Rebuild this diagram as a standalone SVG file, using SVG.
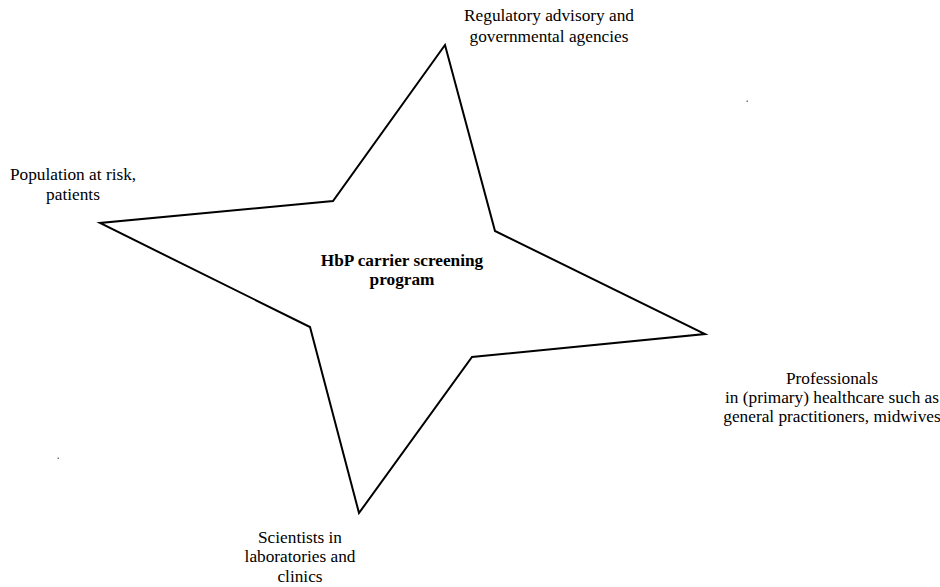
<svg xmlns="http://www.w3.org/2000/svg" width="940" height="587" viewBox="0 0 940 587">
<style>
text{font-family:"Liberation Serif","Times New Roman",serif;font-size:17.3px;fill:#000;text-anchor:middle}
.b{font-weight:bold}
.star{fill:none;stroke:#000;stroke-width:2;stroke-linejoin:miter}
.dot{fill:#777}
</style>
<rect width="940" height="587" fill="#fff"/>
<g id="connectors"></g>
<g id="star">
<polygon class="star" points="445,45 495,231 705,334 472,357 359,513 310,327 100,223 333,201"/>
</g>
<g id="center">
<text class="b" x="402" y="266">HbP carrier screening</text>
<text class="b" x="402" y="285">program</text>
</g>
<g id="regulatory">
<text x="549" y="21">Regulatory advisory and</text>
<text x="549" y="42">governmental agencies</text>
</g>
<g id="population">
<text x="73" y="180">Population at risk,</text>
<text x="73" y="200">patients</text>
</g>
<g id="professionals">
<text x="832" y="384">Professionals</text>
<text x="832" y="403">in (primary) healthcare such as</text>
<text x="832" y="422">general practitioners, midwives</text>
</g>
<g id="scientists">
<text x="300" y="543">Scientists in</text>
<text x="300" y="562">laboratories and</text>
<text x="300" y="582">clinics</text>
</g>
<g id="marks">
<rect class="dot" x="746.5" y="100.5" width="1.5" height="1.5"/>
<rect class="dot" x="57.5" y="457.5" width="1.5" height="1.5"/>
</g>
</svg>
